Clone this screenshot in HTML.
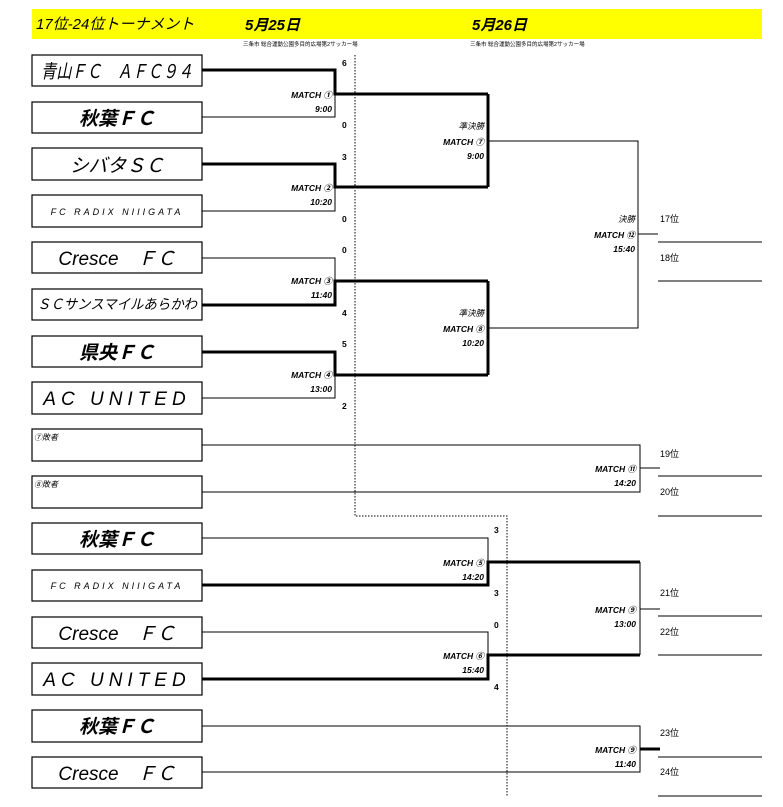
<!DOCTYPE html>
<html><head><meta charset="utf-8"><style>
body{margin:0;background:#fff;}
svg{display:block;font-family:"Liberation Sans","Noto Sans CJK JP",sans-serif;}
.m{font-size:8.5px;font-weight:bold;font-style:italic;text-anchor:end;}
.s{font-size:8.5px;font-weight:bold;}
.t{font-style:italic;font-size:19px;text-anchor:middle;}
.r{font-size:9px;}
</style></head><body>
<svg width="783" height="807" viewBox="0 0 783 807">
<rect x="32" y="9" width="730" height="30" fill="#ffff00"/>
<text x="36" y="29" font-size="15" font-style="italic">17位-24位トーナメント</text>
<text x="245" y="30" font-size="15" font-weight="bold" font-style="italic">5月25日</text>
<text x="472" y="30" font-size="15" font-weight="bold" font-style="italic">5月26日</text>
<text x="243" y="46" font-size="5.5">三条市 総合運動公園多目的広場第2サッカー場</text>
<text x="470" y="46" font-size="5.5">三条市 総合運動公園多目的広場第2サッカー場</text>
<g fill="#fff" stroke="#000" stroke-width="1.2">
<rect x="32" y="55" width="170" height="31"/><rect x="32" y="102" width="170" height="31"/>
<rect x="32" y="148" width="170" height="32"/><rect x="32" y="195" width="170" height="32"/>
<rect x="32" y="242" width="170" height="31"/><rect x="32" y="289" width="170" height="31"/>
<rect x="32" y="336" width="170" height="31"/><rect x="32" y="382" width="170" height="32"/>
<rect x="32" y="429" width="170" height="32"/><rect x="32" y="476" width="170" height="32"/>
<rect x="32" y="523" width="170" height="31"/><rect x="32" y="570" width="170" height="31"/>
<rect x="32" y="617" width="170" height="31"/><rect x="32" y="663" width="170" height="32"/>
<rect x="32" y="710" width="170" height="32"/><rect x="32" y="757" width="170" height="31"/>
</g>
<g>
<text class="t" x="117" y="78" font-size="17" textLength="152" lengthAdjust="spacingAndGlyphs">青山ＦＣ　ＡＦＣ９４</text>
<text class="t" x="117" y="125" font-weight="bold">秋葉ＦＣ</text>
<text class="t" x="117" y="172">シバタＳＣ</text>
<text x="117" y="215" font-size="9" font-style="italic" text-anchor="middle" letter-spacing="3">FC RADIX NIIIGATA</text>
<text class="t" x="117" y="265">Cresce　ＦＣ</text>
<text x="117" y="309" font-size="14" font-style="italic" text-anchor="middle" textLength="160" lengthAdjust="spacingAndGlyphs">ＳＣサンスマイルあらかわ</text>
<text class="t" x="117" y="359" font-weight="bold">県央ＦＣ</text>
<text class="t" x="117" y="405" letter-spacing="5">AC UNITED</text>
<text x="34" y="440" font-size="8" font-style="italic">⑦敗者</text>
<text x="34" y="487" font-size="8" font-style="italic">⑧敗者</text>
<text class="t" x="117" y="546" font-weight="bold">秋葉ＦＣ</text>
<text x="117" y="589" font-size="9" font-style="italic" text-anchor="middle" letter-spacing="3">FC RADIX NIIIGATA</text>
<text class="t" x="117" y="640">Cresce　ＦＣ</text>
<text class="t" x="117" y="686" letter-spacing="5">AC UNITED</text>
<text class="t" x="117" y="733" font-weight="bold">秋葉ＦＣ</text>
<text class="t" x="117" y="780">Cresce　ＦＣ</text>
</g>
<g fill="none" stroke="#000" stroke-width="1">
<path d="M202 117H335V94"/><path d="M202 211H335V187"/><path d="M202 258H335V281"/><path d="M202 398H335V375"/>
<path d="M488 141H638V328H488"/><path d="M638 234H658"/>
<path d="M202 445H640V492H202"/><path d="M640 468H660"/>
<path d="M202 538H488V562"/><path d="M202 632H488V655"/>
<path d="M640 562V655"/><path d="M640 609H660"/>
<path d="M202 726H640V772H202"/>
<path d="M658 242H762M658 281H762M658 476H762M658 516H762M658 616H762M658 655H762M658 757H762M658 796H762"/>
<path d="M355 55V516H507V797" stroke-dasharray="1.5,1.5"/>
</g>
<g fill="none" stroke="#000" stroke-width="3">
<path d="M202 70H335V94H488"/><path d="M202 164H335V187H488"/><path d="M488 94V187"/>
<path d="M202 305H335V281H488"/><path d="M202 352H335V375H488"/><path d="M488 281V375"/>
<path d="M202 585H488V562H640"/><path d="M202 679H488V655H640"/>
<path d="M640 749H660"/>
</g>
<g class="s">
<text x="342" y="66">6</text><text x="342" y="128">0</text><text x="342" y="160">3</text><text x="342" y="222">0</text>
<text x="342" y="253">0</text><text x="342" y="316">4</text><text x="342" y="347">5</text><text x="342" y="409">2</text>
<text x="494" y="533">3</text><text x="494" y="596">3</text><text x="494" y="628">0</text><text x="494" y="690">4</text>
</g>
<g class="m">
<text x="332" y="98">MATCH ①</text><text x="332" y="112">9:00</text>
<text x="332" y="191">MATCH ②</text><text x="332" y="205">10:20</text>
<text x="332" y="284">MATCH ③</text><text x="332" y="298">11:40</text>
<text x="332" y="378">MATCH ④</text><text x="332" y="392">13:00</text>
<text x="484" y="129" font-weight="normal">準決勝</text><text x="484" y="145">MATCH ⑦</text><text x="484" y="159">9:00</text>
<text x="484" y="316" font-weight="normal">準決勝</text><text x="484" y="332">MATCH ⑧</text><text x="484" y="346">10:20</text>
<text x="635" y="222" font-weight="normal">決勝</text><text x="635" y="238">MATCH ⑫</text><text x="635" y="252">15:40</text>
<text x="636" y="472">MATCH ⑪</text><text x="636" y="486">14:20</text>
<text x="484" y="566">MATCH ⑤</text><text x="484" y="580">14:20</text>
<text x="636" y="613">MATCH ⑨</text><text x="636" y="627">13:00</text>
<text x="484" y="659">MATCH ⑥</text><text x="484" y="673">15:40</text>
<text x="636" y="753">MATCH ⑨</text><text x="636" y="767">11:40</text>
</g>
<g class="r">
<text x="660" y="222">17位</text><text x="660" y="261">18位</text>
<text x="660" y="457">19位</text><text x="660" y="495">20位</text>
<text x="660" y="596">21位</text><text x="660" y="635">22位</text>
<text x="660" y="736">23位</text><text x="660" y="775">24位</text>
</g>
</svg>
</body></html>
